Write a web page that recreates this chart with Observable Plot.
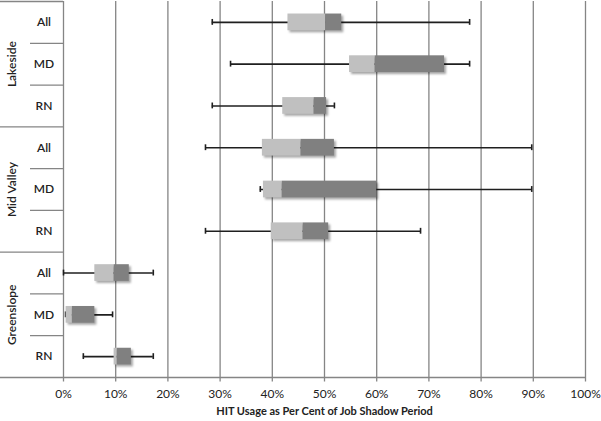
<!DOCTYPE html>
<html>
<head>
<meta charset="utf-8">
<script src="https://cdn.jsdelivr.net/npm/d3@7"></script>
<script src="https://cdn.jsdelivr.net/npm/@observablehq/plot@0.6"></script>
<style>
  html, body { margin: 0; padding: 0; background: white; }
</style>
</head>
<body>
<div id="chart"></div>
<script>
// ---- data (percent of job shadow period) ----
const groups = ["Lakeside", "Mid Valley", "Greenslope"];
const roles = ["All", "MD", "RN"];
const whiskerLow  = [28.5, 32.0, 28.5, 27.2, 37.7, 27.2, 0.0, 0.4, 3.8];
const boxLow      = [43.0, 54.8, 42.0, 38.1, 38.3, 39.8, 6.0, 0.5, 9.7];
const median      = [50.2, 59.7, 48.0, 45.5, 41.9, 45.9, 9.7, 1.7, 10.3];
const boxHigh     = [53.3, 73.0, 50.4, 51.9, 60.0, 50.8, 12.6, 6.0, 13.0];
const whiskerHigh = [77.8, 77.8, 51.9, 89.7, 89.7, 68.4, 17.2, 9.4, 17.2];
const xTicks = [0, 10, 20, 30, 40, 50, 60, 70, 80, 90, 100];
const xTitle = "HIT Usage as Per Cent of Job Shadow Period";

// ---- build rows ----
const rows = [];
groups.forEach((g, gi) => roles.forEach((r, ri) => {
  const i = gi * roles.length + ri;
  rows.push({group: g, role: r, idx: i,
    lo: whiskerLow[i], q1: boxLow[i], med: median[i], q3: boxHigh[i], hi: whiskerHigh[i]});
}));
const groupRows = groups.map((g, gi) => ({group: g, mid: gi * roles.length + roles.length / 2}));
const nRows = rows.length;
const innerSeps = d3.range(1, nRows).filter(k => k % roles.length !== 0);
const groupSeps = [0, ...d3.range(roles.length, nRows, roles.length)];

const W = 601, H = 421, mL = 63, mR = 16;
const pxPerUnit = (W - mL - mR) / 100;
const leftEdge = -mL / pxPerUnit;          // x=0px in data units
const roleColEdge = -(mL - 30) / pxPerUnit; // inner label column edge
const roleLabelX = -(mL - 43.5) / pxPerUnit;
const groupLabelX = -(mL - 12) / pxPerUnit;

const grid = "#858585";
const ink = "#1f1f1f";

const chart = Plot.plot({
  width: W, height: H,
  marginTop: 1, marginBottom: 44, marginLeft: mL, marginRight: mR,
  x: {domain: [0, 100], ticks: xTicks, tickFormat: d => d + "%", tickSize: 0, tickPadding: 12, label: null},
  y: {domain: [0, nRows], reverse: true, axis: null},
  style: {fontFamily: "Lato, 'Open Sans', sans-serif", fontSize: "12px", color: "#222", background: "white", overflow: "visible"},
  marks: [
    // gridlines + ticks
    Plot.ruleX(xTicks, {x: d => d, y1: 0, y2: nRows + 0.11, stroke: grid, strokeWidth: 1.3}),
    // label column separators
    Plot.ruleY(innerSeps, {y: d => d, x1: roleColEdge, x2: 0, stroke: grid, strokeWidth: 1.3}),
    Plot.ruleY(groupSeps, {y: d => d, x1: leftEdge, x2: 0, stroke: grid, strokeWidth: 1.3}),
    Plot.ruleY([nRows], {y: d => d, x1: leftEdge, x2: 100, stroke: grid, strokeWidth: 1.3}),
    // whiskers
    Plot.ruleY(rows, {y: d => d.idx + 0.5, x1: "lo", x2: "hi", stroke: ink, strokeWidth: 1.6}),
    Plot.ruleX(rows, {x: "lo", y1: d => d.idx + 0.43, y2: d => d.idx + 0.57, stroke: ink, strokeWidth: 1.6}),
    Plot.ruleX(rows, {x: "hi", y1: d => d.idx + 0.43, y2: d => d.idx + 0.57, stroke: ink, strokeWidth: 1.6}),
    // shadow
    Plot.rect(rows, {x1: "q1", x2: "q3", y1: d => d.idx + 0.3, y2: d => d.idx + 0.7, fill: "#000", fillOpacity: 0.35, dx: 2, dy: 2}),
    // boxes
    Plot.rect(rows, {x1: "q1", x2: "med", y1: d => d.idx + 0.3, y2: d => d.idx + 0.7, fill: "#c0c0c0"}),
    Plot.rect(rows, {x1: "med", x2: "q3", y1: d => d.idx + 0.3, y2: d => d.idx + 0.7, fill: "#808080"}),
    // labels
    Plot.text(rows, {x: roleLabelX, y: d => d.idx + 0.5, text: "role", fill: "#222", fontWeight: 600, fontSize: 12}),
    Plot.text(groupRows, {x: groupLabelX, y: "mid", text: "group", rotate: -90, fill: "#222", fontWeight: 600, fontSize: 12}),
    Plot.text([xTitle], {frameAnchor: "bottom", dy: 37, text: d => d, fontWeight: "bold", fontSize: 11, fill: "#222"})
  ]
});

// soft drop shadow filter
const ns = "http://www.w3.org/2000/svg";
const defs = document.createElementNS(ns, "defs");
const filter = document.createElementNS(ns, "filter");
filter.setAttribute("id", "boxshadow");
filter.setAttribute("x", "-20%"); filter.setAttribute("y", "-50%");
filter.setAttribute("width", "140%"); filter.setAttribute("height", "200%");
const blur = document.createElementNS(ns, "feGaussianBlur");
blur.setAttribute("stdDeviation", "1.2");
filter.appendChild(blur);
defs.appendChild(filter);
chart.insertBefore(defs, chart.firstChild);
const rectGroups = chart.querySelectorAll('g[aria-label="rect"]');
if (rectGroups.length) rectGroups[0].setAttribute("filter", "url(#boxshadow)");

document.getElementById("chart").appendChild(chart);
</script>
</body>
</html>
